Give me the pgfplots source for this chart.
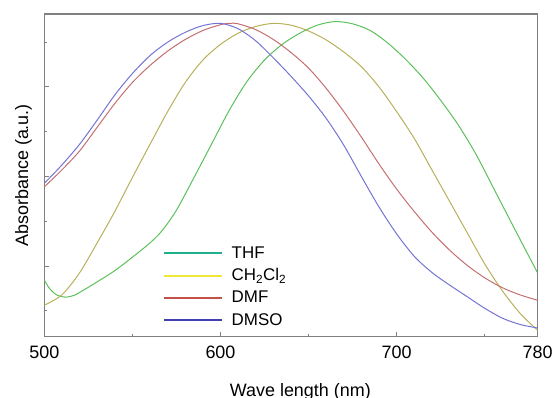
\documentclass[border=0pt]{standalone}
\usepackage{pgfplots}
\pgfplotsset{compat=1.18}
\usepackage{pgfplotstable}
\usepackage{fontspec}
\setmainfont{Liberation Sans}
\definecolor{cTHF}{HTML}{5CC05C}
\definecolor{cDCM}{HTML}{B8B05C}
\definecolor{cDMF}{HTML}{C47070}
\definecolor{cDMSO}{HTML}{7474D4}
\definecolor{lTHF}{HTML}{20B08C}
\definecolor{lDCM}{HTML}{F0E838}
\definecolor{lDMF}{HTML}{C4504A}
\definecolor{lDMSO}{HTML}{4040B0}
\definecolor{axgray}{HTML}{808080}

\pgfplotstableread{
x y
500 0.69
503 0.50
507 0.36
512 0.31
517 0.35
522 0.46
530 0.65
540 0.90
550 1.20
560 1.52
567 1.80
575 2.25
585 2.98
595 3.73
605 4.48
615 5.12
625 5.60
635 5.95
645 6.20
655 6.38
665 6.46
675 6.41
685 6.26
695 5.98
705 5.62
715 5.20
725 4.70
735 4.15
745 3.50
755 2.74
765 1.98
772 1.45
780 0.85
}\thf

\pgfplotstableread{
x y
500 0.13
510 0.36
520 0.85
530 1.52
540 2.22
550 2.98
560 3.72
570 4.45
580 5.10
590 5.60
600 5.95
610 6.20
620 6.35
630 6.42
640 6.38
650 6.25
660 6.05
670 5.78
680 5.45
690 5.00
700 4.45
710 3.85
720 3.15
730 2.45
740 1.75
750 1.05
760 0.45
770 -0.05
780 -0.43
}\dcm

\pgfplotstableread{
x y
500 2.77
510 3.15
520 3.57
530 4.10
540 4.63
550 5.10
560 5.48
570 5.80
580 6.06
590 6.26
600 6.39
605 6.42
610 6.41
620 6.28
630 6.06
640 5.77
650 5.42
660 4.97
670 4.45
680 3.88
690 3.28
700 2.72
710 2.22
720 1.76
730 1.36
740 1.02
750 0.74
760 0.52
770 0.36
780 0.24
}\dmf

\pgfplotstableread{
x y
500 2.85
510 3.26
520 3.72
530 4.26
540 4.82
550 5.30
560 5.70
570 6.00
580 6.22
590 6.37
600 6.42
610 6.30
620 6.03
630 5.65
640 5.24
650 4.80
660 4.30
670 3.70
680 3.00
690 2.32
700 1.72
710 1.22
720 0.86
730 0.58
740 0.32
750 0.06
760 -0.16
770 -0.30
780 -0.38
}\dmso

\begin{document}
\begin{tikzpicture}
\useasboundingbox (-44.3bp,-61.3bp) rectangle (513.7bp,336.7bp);
\begin{axis}[
  at={(0,0)}, anchor=south west,
  scale only axis, width=493.3bp, height=322.7bp,
  xmin=500, xmax=780, ymin=-0.574, ymax=6.629,
  xtick={500,600,700,780}, minor xtick={550,650,750},
  ytick={1,3,5}, minor ytick={0,2,4,6}, yticklabels={},
  tick pos=left, tick align=inside,
  major tick length=5bp, minor tick length=3bp,
  axis line style={draw=axgray, line width=1.3bp},
  every tick/.style={axgray, line width=1bp},
  /pgf/number format/assume math mode=true,
  /pgf/number format/1000 sep={},
  ticklabel style={font=\fontsize{18}{21}\selectfont},
  xticklabel style={yshift=-6bp},
  xlabel={Wave length (nm)},
  ylabel={Absorbance (a.u.)},
  label style={font=\fontsize{18}{21}\selectfont},
  xlabel style={at={(axis description cs:0.519,-0.1838)}, anchor=base},
  ylabel style={at={(axis description cs:-0.033,0.5)}, anchor=base, rotate=0},
  legend style={draw=none, fill=none, at={(axis description cs:0.2412,0.2832)}, anchor=north west,
    inner sep=0pt, outer sep=0pt, row sep=5.3bp,
    font=\fontsize{17}{20}\selectfont,
    nodes={inner sep=0pt, text height=13bp, text depth=4bp}},
  legend cell align=left,
  legend image code/.code={\draw[line width=2bp, #1] (0bp,0.5bp) -- (57.4bp,0.5bp);},
]
\addplot[color=cTHF, line width=1bp, smooth, forget plot] table[x=x,y=y] {\thf};
\addplot[color=cDCM, line width=1bp, smooth, forget plot] table[x=x,y=y] {\dcm};
\addplot[color=cDMF, line width=1bp, smooth, forget plot] table[x=x,y=y] {\dmf};
\addplot[color=cDMSO, line width=1bp, smooth, forget plot] table[x=x,y=y] {\dmso};
\addlegendimage{color=lTHF}
\addlegendentry{\hspace{9bp}THF}
\addlegendimage{color=lDCM}
\addlegendentry{\hspace{9bp}CH\textsubscript{2}Cl\textsubscript{2}}
\addlegendimage{color=lDMF}
\addlegendentry{\hspace{9bp}DMF}
\addlegendimage{color=lDMSO}
\addlegendentry{\hspace{9bp}DMSO}
\end{axis}
\end{tikzpicture}
\end{document}
